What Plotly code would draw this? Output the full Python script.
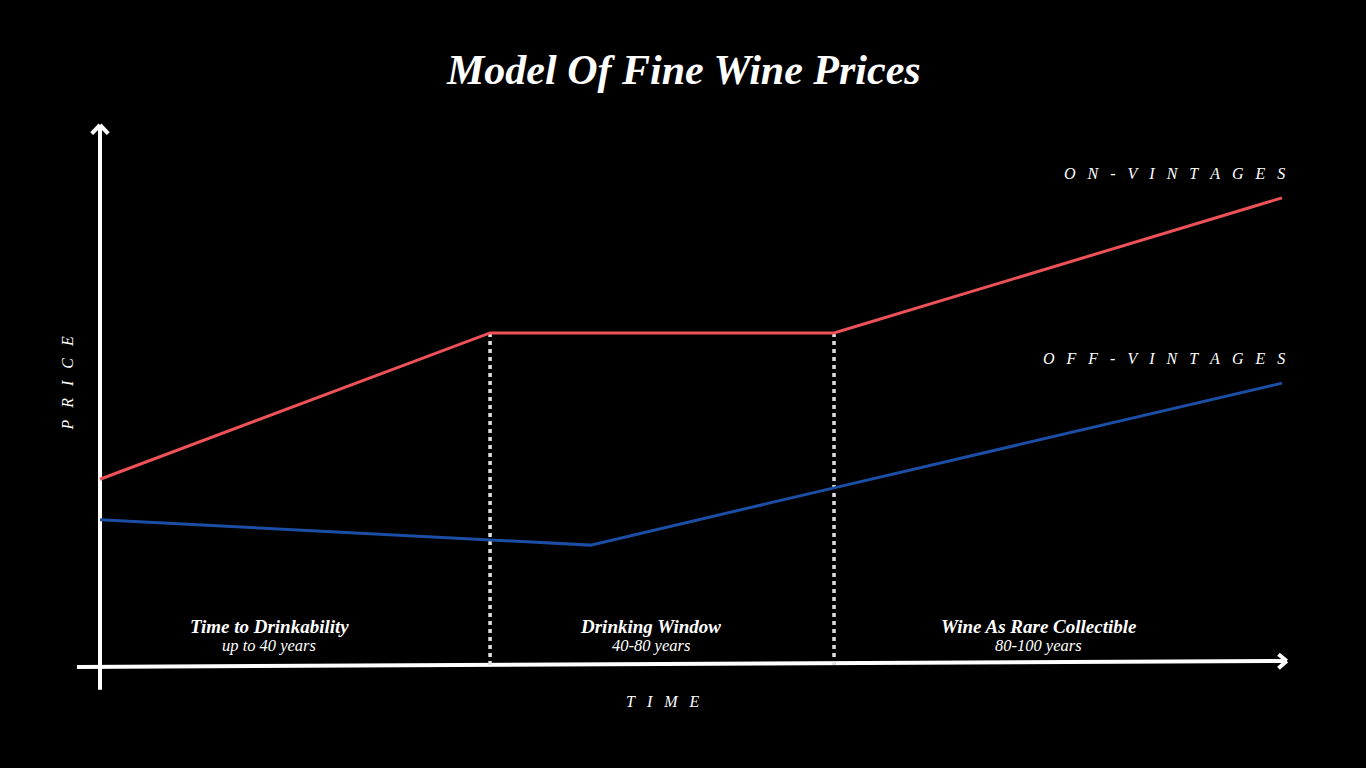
import plotly.graph_objects as go

# ---- data (schematic units: time 0-100, price 0-100) ----
on_time = [0, 33.0, 62.1, 100]
on_price = [34.4, 61.5, 61.5, 86.5]
off_time = [0, 41.5, 62.1, 100]
off_price = [26.9, 22.2, 32.8, 52.2]
window_bounds = [33.0, 62.1]
window_top = 61.5
phase_names = ["Time to Drinkability", "Drinking Window", "Wine As Rare Collectible"]
phase_spans = ["up to 40 years", "40-80 years", "80-100 years"]
phase_centers = [14.3, 46.6, 79.4]

RED = "#ee5258"
BLUE = "#1c4ea6"
SERIF = "Liberation Serif, Times New Roman, serif"

def spaced(s, n=3):
    return ("\u00a0" * n).join(list(s))

fig = go.Figure()

# axes drawn as lines
fig.add_trace(go.Scatter(x=[0, 0], y=[-4.6, 100], mode="lines",
                         line=dict(color="white", width=4), hoverinfo="skip"))
fig.add_trace(go.Scatter(x=[0, -0.7, None, 0, 0.7], y=[100, 98.4, None, 100, 98.4], mode="lines",
                         line=dict(color="white", width=4), hoverinfo="skip"))
fig.add_trace(go.Scatter(x=[-1.95, 100.4], y=[-0.37, 0.74], mode="lines",
                         line=dict(color="white", width=4), hoverinfo="skip"))
fig.add_trace(go.Scatter(x=[100.4, 99.7, None, 100.4, 99.7], y=[0.74, 2.0, None, 0.74, -0.6], mode="lines",
                         line=dict(color="white", width=4), hoverinfo="skip"))

# dotted window boundaries
for xb in window_bounds:
    fig.add_trace(go.Scatter(x=[xb, xb], y=[0, window_top], mode="lines",
                             line=dict(color="#e0e0e0", width=3.5, dash="4px,4px"), hoverinfo="skip"))

# series
fig.add_trace(go.Scatter(x=off_time, y=off_price, mode="lines", name="Off-Vintages",
                         line=dict(color=BLUE, width=3)))
fig.add_trace(go.Scatter(x=on_time, y=on_price, mode="lines", name="On-Vintages",
                         line=dict(color=RED, width=3)))

ann = []
ann.append(dict(x=0.5, y=1 - 70 / 768, xref="paper", yref="paper", xanchor="center", yanchor="middle",
                text="<b><i>Model Of Fine Wine Prices</i></b>", showarrow=False,
                font=dict(family=SERIF, size=42, color="white")))
ann.append(dict(x=100.4, y=91.0, xref="x", yref="y", xanchor="right", yanchor="middle",
                text="<i>" + spaced("ON-VINTAGES") + "</i>", showarrow=False,
                font=dict(family=SERIF, size=16, color="white")))
ann.append(dict(x=100.4, y=56.8, xref="x", yref="y", xanchor="right", yanchor="middle",
                text="<i>" + spaced("OFF-VINTAGES") + "</i>", showarrow=False,
                font=dict(family=SERIF, size=16, color="white")))
ann.append(dict(x=-2.75, y=52.2, xref="x", yref="y", xanchor="center", yanchor="middle",
                text="<i>" + spaced("PRICE") + "</i>", showarrow=False, textangle=-90,
                font=dict(family=SERIF, size=16, color="white")))
ann.append(dict(x=47.6, y=-6.8, xref="x", yref="y", xanchor="center", yanchor="middle",
                text="<i>" + spaced("TIME") + "</i>", showarrow=False,
                font=dict(family=SERIF, size=16, color="white")))
for c, nme, sp in zip(phase_centers, phase_names, phase_spans):
    ann.append(dict(x=c, y=7.2, xref="x", yref="y", xanchor="center", yanchor="middle",
                    text="<b><i>" + nme + "</i></b>", showarrow=False,
                    font=dict(family=SERIF, size=19, color="white")))
    ann.append(dict(x=c, y=3.6, xref="x", yref="y", xanchor="center", yanchor="middle",
                    text="<i>" + sp + "</i>", showarrow=False,
                    font=dict(family=SERIF, size=16.5, color="white")))

fig.update_layout(
    width=1366, height=768,
    margin=dict(l=0, r=0, t=0, b=0),
    paper_bgcolor="black", plot_bgcolor="black",
    showlegend=False,
    annotations=ann,
    xaxis=dict(range=[-100 / 11.82, (1366 - 100) / 11.82], visible=False, fixedrange=True),
    yaxis=dict(range=[-103 / 5.4, 665 / 5.4], visible=False, fixedrange=True),
)

fig.write_html(
    "out.html",
    config={"displayModeBar": False},
    post_script="document.body.style.margin='0';document.body.style.background='black';"
                "document.body.style.overflow='hidden';",
)
